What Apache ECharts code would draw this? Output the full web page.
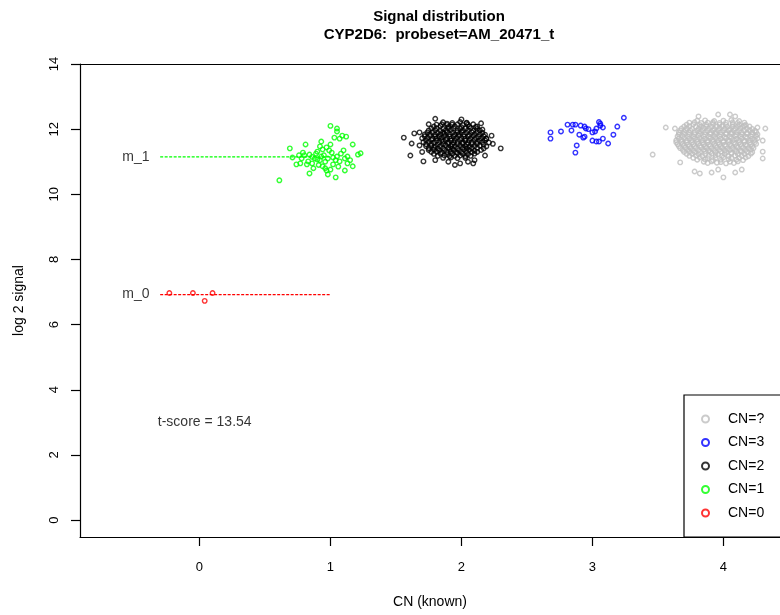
<!DOCTYPE html>
<html>
<head>
<meta charset="utf-8">
<script src="https://cdn.jsdelivr.net/npm/echarts@6/dist/echarts.min.js"></script>
<style>html,body{margin:0;padding:0;background:#fff;}#chart{width:780px;height:615px;}</style>
</head>
<body>
<div id="chart"></div>
<script>
// ---- data ----
const xTicks = [0, 1, 2, 3, 4];
const yTicks = [0, 2, 4, 6, 8, 10, 12, 14];
const legendNames = ['CN=?', 'CN=3', 'CN=2', 'CN=1', 'CN=0'];
const m0 = 6.92;
const m1 = 11.15;
const meanLineX = [-0.3, 1.0];
const annotNames = ['m_1', 'm_0', 't-score = 13.54'];
const annotX = [-0.485, -0.485, 0.04];
const annotY = [11.15, 6.92, 3.0];

const cn0 = [[-0.23,6.97],[-0.05,6.97],[0.04,6.73],[0.10,6.97]];

const cn1 = [[0.61,10.43],[0.69,11.41],[0.71,11.13],[0.74,10.92],[0.77,10.95],[0.78,11.10],[0.81,11.53],[0.82,10.92],
[0.83,11.01],[0.84,10.64],[0.84,11.22],[0.87,10.80],[0.88,11.10],[0.90,11.31],[0.90,11.07],[0.92,11.47],[0.93,11.62],
[0.94,10.86],[0.94,11.38],[0.97,11.44],[0.97,10.73],[0.98,10.61],[1.00,11.53],[1.00,10.76],[1.02,10.92],[1.02,11.13],
[1.03,11.74],[1.04,10.52],[1.05,11.93],[1.05,11.16],[1.07,11.71],[1.07,11.01],[1.11,11.10],[1.13,11.16],[1.13,10.95],
[1.11,10.73],[1.17,10.86],[1.17,11.53],[1.21,11.22],[1.00,12.10],[1.05,12.02],[1.09,11.80],[1.12,11.77],[0.80,11.20],
[0.86,11.15],[0.89,11.25],[0.92,11.05],[0.95,11.20],[0.98,11.10],[1.01,11.28],[1.04,11.05],[1.08,11.25],[1.10,11.35],
[0.86,10.95],[0.91,10.90],[0.96,11.00],[0.99,11.35],[1.06,10.85],[0.76,11.20],[0.79,11.28],[1.15,11.05],[0.93,11.16],
[0.96,10.80],[1.23,11.26]];

const cn2 = [[1.56,11.74],[1.61,11.19],[1.71,11.01],[1.64,11.87],[1.68,11.90],[1.62,11.56],[2.30,11.41],[1.99,10.95],
[2.09,10.95],[1.80,12.32],[1.89,12.17],[2.04,12.20],[2.12,12.08],[2.16,11.99],[2.19,11.71],[2.18,11.19],
[1.70,11.30],[1.68,11.50],[2.24,11.55],[2.23,11.80],[1.75,12.15],[2.15,12.18],[1.80,11.05],[2.10,11.05],[2.00,12.30],
[1.95,10.90],[1.90,11.00],[2.05,11.00],
[1.86,12.21],[1.93,12.19],[1.99,12.22],[2.04,12.18],
[1.79,12.08],[1.84,12.10],[1.90,12.07],[1.95,12.09],[2.00,12.06],[2.06,12.08],[2.11,12.07],
[1.75,11.96],[1.80,11.97],[1.84,11.95],[1.88,11.96],[1.92,11.98],[1.97,11.95],[2.01,11.96],[2.05,11.97],[2.09,11.95],[2.14,11.96],
[1.72,11.84],[1.76,11.85],[1.80,11.83],[1.84,11.84],[1.87,11.86],[1.91,11.84],[1.95,11.83],[1.98,11.85],[2.02,11.84],[2.06,11.82],[2.10,11.85],[2.14,11.84],[2.18,11.83],
[1.70,11.72],[1.74,11.73],[1.78,11.71],[1.81,11.72],[1.85,11.74],[1.89,11.72],[1.92,11.71],[1.96,11.73],[2.00,11.72],[2.03,11.70],[2.07,11.72],[2.11,11.73],[2.15,11.72],[2.19,11.71],
[1.71,11.60],[1.75,11.61],[1.79,11.59],[1.83,11.60],[1.86,11.62],[1.90,11.60],[1.94,11.59],[1.97,11.61],[2.01,11.60],[2.05,11.58],[2.08,11.60],[2.12,11.61],[2.16,11.60],[2.21,11.59],
[1.73,11.48],[1.77,11.49],[1.80,11.47],[1.84,11.48],[1.88,11.50],[1.92,11.48],[1.95,11.47],[1.99,11.49],[2.03,11.48],[2.06,11.46],[2.10,11.48],[2.14,11.49],[2.19,11.47],
[1.75,11.36],[1.79,11.37],[1.83,11.35],[1.87,11.36],[1.91,11.38],[1.94,11.36],[1.98,11.35],[2.02,11.37],[2.06,11.36],[2.10,11.34],[2.15,11.36],
[1.79,11.24],[1.84,11.25],[1.89,11.23],[1.93,11.24],[1.97,11.26],[2.01,11.24],[2.05,11.23],[2.10,11.25],
[1.86,11.12],[1.92,11.13],[1.97,11.11],[2.03,11.12],
[1.81,12.14],[1.85,12.15],[1.89,12.13],[1.93,12.14],[1.97,12.15],[2.01,12.13],[2.05,12.14],[2.09,12.15],
[1.77,12.02],[1.81,12.03],[1.86,12.01],[1.90,12.02],[1.94,12.03],[1.99,12.01],[2.03,12.02],[2.07,12.03],[2.12,12.01],
[1.74,11.90],[1.78,11.91],[1.82,11.89],[1.86,11.90],[1.89,11.91],[1.93,11.89],[1.97,11.90],[2.00,11.91],[2.04,11.89],[2.08,11.90],[2.12,11.91],[2.16,11.89],
[1.72,11.78],[1.76,11.79],[1.80,11.77],[1.83,11.78],[1.87,11.79],[1.91,11.77],[1.94,11.78],[1.98,11.79],[2.02,11.77],[2.05,11.78],[2.09,11.79],[2.13,11.77],[2.17,11.78],
[1.73,11.66],[1.77,11.67],[1.81,11.65],[1.85,11.66],[1.88,11.67],[1.92,11.65],[1.95,11.66],[1.99,11.67],[2.03,11.65],[2.06,11.66],[2.10,11.67],[2.14,11.65],[2.18,11.66],
[1.73,11.54],[1.77,11.55],[1.82,11.53],[1.86,11.54],[1.90,11.55],[1.93,11.53],[1.97,11.54],[2.01,11.55],[2.04,11.53],[2.08,11.54],[2.12,11.55],[2.17,11.53],
[1.75,11.42],[1.79,11.43],[1.82,11.41],[1.86,11.42],[1.90,11.43],[1.93,11.41],[1.97,11.42],[2.01,11.43],[2.04,11.41],[2.08,11.42],[2.12,11.43],[2.17,11.41],
[1.77,11.30],[1.81,11.31],[1.85,11.29],[1.89,11.30],[1.92,11.31],[1.96,11.29],[2.00,11.30],[2.04,11.31],[2.08,11.29],[2.12,11.30],
[1.82,11.18],[1.87,11.19],[1.91,11.17],[1.95,11.18],[1.99,11.19],[2.03,11.17],[2.07,11.18]];

const cn3 = [[2.68,11.90],[2.68,11.71],[2.76,11.93],[2.81,12.14],[2.85,12.14],[2.87,12.14],[2.84,11.96],[2.91,12.11],
[2.90,11.83],[2.94,12.08],[2.95,12.02],[2.93,11.74],[2.97,12.00],[3.00,11.90],[3.02,11.93],[3.03,12.02],[3.06,12.17],
[3.06,12.11],[3.08,12.05],[3.08,11.71],[3.00,11.65],[3.03,11.62],[3.05,11.62],[3.12,11.56],[3.16,11.83],[3.19,12.08],
[3.24,12.35],[2.88,11.50],[2.87,11.28],[2.94,11.77],[3.05,12.22]];

const cnU = [[3.46,11.22],[3.56,12.05],[3.63,12.02],[3.67,10.98],[3.78,10.70],[3.82,10.64],[3.91,10.67],[3.96,10.76],
[4.00,10.52],[4.09,10.67],[4.14,10.76],[4.26,12.05],[4.32,12.02],[4.30,11.65],[4.30,11.31],[4.30,11.10],[3.81,12.39],
[3.96,12.45],[4.05,12.45],[4.09,12.39],[4.16,12.11],
[3.80,12.26],[3.86,12.27],[3.93,12.25],[4.00,12.26],[4.06,12.28],[4.12,12.25],
[3.72,12.14],[3.77,12.15],[3.82,12.13],[3.87,12.14],[3.92,12.16],[3.97,12.14],[4.02,12.13],[4.07,12.15],[4.12,12.14],[4.17,12.13],
[3.68,12.02],[3.72,12.03],[3.76,12.01],[3.81,12.02],[3.85,12.04],[3.89,12.02],[3.93,12.01],[3.97,12.03],[4.01,12.02],[4.05,12.00],[4.09,12.02],[4.13,12.03],[4.18,12.02],[4.22,12.01],
[3.66,11.90],[3.70,11.91],[3.74,11.89],[3.78,11.90],[3.82,11.92],[3.86,11.90],[3.90,11.89],[3.94,11.91],[3.98,11.90],[4.02,11.88],[4.06,11.90],[4.10,11.91],[4.14,11.90],[4.18,11.89],[4.22,11.90],[4.25,11.91],
[3.65,11.78],[3.69,11.79],[3.73,11.77],[3.77,11.78],[3.81,11.80],[3.85,11.78],[3.89,11.77],[3.93,11.79],[3.97,11.78],[4.01,11.76],[4.05,11.78],[4.09,11.79],[4.13,11.78],[4.17,11.77],[4.21,11.78],[4.25,11.79],
[3.64,11.66],[3.68,11.67],[3.72,11.65],[3.76,11.66],[3.80,11.68],[3.84,11.66],[3.88,11.65],[3.92,11.67],[3.96,11.66],[4.00,11.64],[4.04,11.66],[4.08,11.67],[4.12,11.66],[4.16,11.65],[4.20,11.66],[4.24,11.67],
[3.65,11.54],[3.69,11.55],[3.73,11.53],[3.77,11.54],[3.81,11.56],[3.85,11.54],[3.89,11.53],[3.93,11.55],[3.97,11.54],[4.01,11.52],[4.05,11.54],[4.09,11.55],[4.13,11.54],[4.17,11.53],[4.21,11.54],[4.25,11.55],
[3.67,11.42],[3.71,11.43],[3.75,11.41],[3.79,11.42],[3.83,11.44],[3.87,11.42],[3.91,11.41],[3.95,11.43],[3.99,11.42],[4.03,11.40],[4.07,11.42],[4.11,11.43],[4.15,11.42],[4.19,11.41],[4.23,11.42],
[3.70,11.30],[3.74,11.31],[3.78,11.29],[3.82,11.30],[3.86,11.32],[3.90,11.30],[3.94,11.29],[3.98,11.31],[4.02,11.30],[4.06,11.28],[4.10,11.30],[4.14,11.31],[4.18,11.30],[4.22,11.29],
[3.74,11.18],[3.79,11.19],[3.84,11.17],[3.89,11.18],[3.94,11.20],[3.99,11.18],[4.04,11.17],[4.09,11.19],[4.14,11.18],[4.19,11.17],
[3.80,11.06],[3.86,11.07],[3.92,11.05],[3.98,11.06],[4.04,11.08],[4.10,11.06],[4.15,11.05],
[3.88,10.96],[3.95,10.97],[4.02,10.95],[4.08,10.96],
[3.74,12.20],[3.78,12.21],[3.83,12.19],[3.88,12.20],[3.92,12.21],[3.97,12.19],[4.02,12.20],[4.07,12.21],[4.11,12.19],[4.16,12.20],
[3.70,12.08],[3.74,12.09],[3.79,12.07],[3.83,12.08],[3.87,12.09],[3.91,12.07],[3.95,12.08],[3.99,12.09],[4.03,12.07],[4.07,12.08],[4.11,12.09],[4.15,12.07],[4.20,12.08],
[3.67,11.96],[3.71,11.97],[3.75,11.95],[3.80,11.96],[3.84,11.97],[3.88,11.95],[3.92,11.96],[3.96,11.97],[4.00,11.95],[4.04,11.96],[4.08,11.97],[4.12,11.95],[4.16,11.96],[4.20,11.97],[4.24,11.95],
[3.66,11.84],[3.70,11.85],[3.74,11.83],[3.78,11.84],[3.82,11.85],[3.86,11.83],[3.90,11.84],[3.94,11.85],[3.98,11.83],[4.02,11.84],[4.06,11.85],[4.10,11.83],[4.14,11.84],[4.18,11.85],[4.22,11.83],[4.26,11.84],
[3.66,11.72],[3.70,11.73],[3.74,11.71],[3.78,11.72],[3.82,11.73],[3.86,11.71],[3.90,11.72],[3.94,11.73],[3.98,11.71],[4.02,11.72],[4.06,11.73],[4.10,11.71],[4.14,11.72],[4.18,11.73],[4.22,11.71],[4.26,11.72],
[3.64,11.60],[3.68,11.61],[3.72,11.59],[3.76,11.60],[3.80,11.61],[3.84,11.59],[3.88,11.60],[3.92,11.61],[3.96,11.59],[4.00,11.60],[4.04,11.61],[4.08,11.59],[4.12,11.60],[4.16,11.61],[4.20,11.59],[4.24,11.60],
[3.66,11.48],[3.70,11.49],[3.74,11.47],[3.78,11.48],[3.82,11.49],[3.86,11.47],[3.90,11.48],[3.94,11.49],[3.98,11.47],[4.02,11.48],[4.06,11.49],[4.10,11.47],[4.14,11.48],[4.18,11.49],[4.22,11.47],
[3.69,11.36],[3.73,11.37],[3.77,11.35],[3.81,11.36],[3.85,11.37],[3.89,11.35],[3.93,11.36],[3.97,11.37],[4.01,11.35],[4.05,11.36],[4.09,11.37],[4.13,11.35],[4.17,11.36],[4.21,11.37],
[3.72,11.24],[3.76,11.25],[3.81,11.23],[3.86,11.24],[3.91,11.25],[3.96,11.23],[4.01,11.24],[4.06,11.25],[4.11,11.23],[4.16,11.24],[4.21,11.25],
[3.77,11.12],[3.82,11.13],[3.88,11.11],[3.94,11.12],[4.00,11.13],[4.06,11.11],[4.12,11.12],[4.17,11.13],
[3.85,11.00],[3.91,11.01],[3.98,10.99],[4.05,11.00],[4.11,11.01]];

// ---- chart ----
const FONT = '"Liberation Sans", Arial, sans-serif';
const X_MIN = -0.912, X_MAX = 4.432, Y_MIN = -0.52, Y_MAX = 14;
const colors = {'CN=?':'#BEBEBE','CN=3':'#0000FF','CN=2':'#000000','CN=1':'#00FF00','CN=0':'#FF0000'};
const groups = {'CN=?':cnU,'CN=3':cn3,'CN=2':cn2,'CN=1':cn1,'CN=0':cn0};

function pointSeries(name){
  return {
    name: name, type: 'scatter', data: groups[name],
    symbol: 'circle', symbolSize: 4.5,
    itemStyle: {color: 'transparent', borderColor: colors[name], borderWidth: 1.4},
    emphasis: {disabled: true}, z: 3
  };
}
function meanLine(val, color){
  return {
    type: 'line', data: [[meanLineX[0], val], [meanLineX[1], val]],
    symbol: 'none', silent: true, z: 2,
    lineStyle: {color: color, width: 1.3, type: [3, 1.5]}
  };
}

const chart = echarts.init(document.getElementById('chart'), null, {renderer: 'canvas'});
chart.setOption({
  animation: false,
  backgroundColor: '#fff',
  title: {
    text: 'Signal distribution\nCYP2D6:  probeset=AM_20471_t',
    left: 434, top: 3, textAlign: 'center',
    textStyle: {fontFamily: FONT, fontSize: 15, fontWeight: 'bold', color: '#000', lineHeight: 18}
  },
  grid: {left: 80, top: 64, width: 700, height: 473, show: false},
  xAxis: [{
    type: 'value', min: X_MIN, max: X_MAX,
    axisLine: {show: true, onZero: false, lineStyle: {color: '#000', width: 1.2}},
    splitLine: {show: false},
    axisTick: {show: true, length: 9, customValues: xTicks, lineStyle: {color: '#000', width: 1.2}},
    axisLabel: {customValues: xTicks, margin: 24, color: '#000', fontSize: 13, fontFamily: FONT},
    name: 'CN (known)', nameLocation: 'middle', nameGap: 58,
    nameTextStyle: {fontFamily: FONT, fontSize: 14, color: '#000'}
  }, {
    type: 'value', position: 'top', min: X_MIN, max: X_MAX,
    axisLine: {show: true, onZero: false, lineStyle: {color: '#000', width: 1.2}},
    splitLine: {show: false}, axisTick: {show: false}, axisLabel: {show: false}
  }],
  yAxis: {
    type: 'value', min: Y_MIN, max: Y_MAX,
    axisLine: {show: true, onZero: false, lineStyle: {color: '#000', width: 1.2}},
    splitLine: {show: false},
    axisTick: {show: true, length: 9, customValues: yTicks, lineStyle: {color: '#000', width: 1.2}},
    axisLabel: {customValues: yTicks, rotate: 90, margin: 19, color: '#000', fontSize: 13, fontFamily: FONT},
    name: 'log 2 signal', nameLocation: 'middle', nameGap: 54,
    nameTextStyle: {fontFamily: FONT, fontSize: 14, color: '#000'}
  },
  legend: {
    orient: 'vertical', left: 684, top: 395,
    padding: [17, 30, 17, 17], itemGap: 9.5,
    itemWidth: 7, itemHeight: 7,
    backgroundColor: '#fff', borderColor: '#000', borderWidth: 1.2, borderRadius: 0,
    selectedMode: false,
    textStyle: {fontFamily: FONT, fontSize: 14, color: '#000', lineHeight: 14, padding: [0, 0, 0, 14]},
    data: legendNames.map(n => ({name: n, icon: 'circle', itemStyle: {color: 'transparent', borderColor: colors[n], borderWidth: 2}}))
  },
  series: [
    meanLine(m1, '#00FF00'),
    meanLine(m0, '#FF0000'),
    pointSeries('CN=?'), pointSeries('CN=3'), pointSeries('CN=2'), pointSeries('CN=1'), pointSeries('CN=0'),
    {
      type: 'scatter', silent: true, symbolSize: 1, z: 4,
      itemStyle: {color: 'transparent'},
      data: annotNames.map((n, i) => ({name: n, value: [annotX[i], annotY[i]]})),
      label: {show: true, position: 'inside', formatter: '{b}', color: '#000', fontSize: 14, fontFamily: FONT}
    }
  ]
});
</script>
</body>
</html>
